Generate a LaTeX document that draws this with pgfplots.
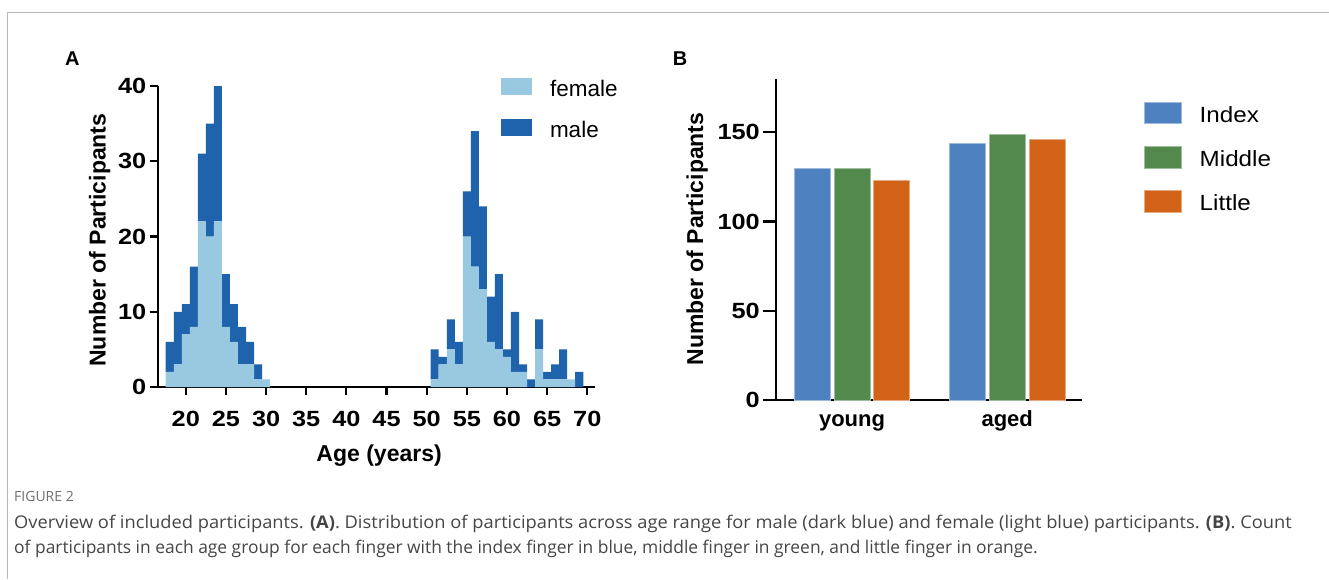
\documentclass[border=0pt]{standalone}
\usepackage{fontspec}
\setmainfont{Liberation Sans}
\newfontfamily\capfont{Open Sans}
\newfontfamily\tickfont{Liberation Sans}[FakeStretch=1.15]
\newfontfamily\legfont{Liberation Sans}[FakeStretch=1.1]
\usepackage{graphicx}
\usepackage{pgfplots}
\pgfplotsset{compat=1.18}
\definecolor{femaleblue}{HTML}{99C8E1}
\definecolor{maleblue}{HTML}{1E63AC}
\definecolor{idxblue}{HTML}{4E81C0}
\definecolor{midgreen}{HTML}{53894C}
\definecolor{litorange}{HTML}{D16218}
\definecolor{framegray}{HTML}{B8B8B8}
\definecolor{capgray}{HTML}{454545}
\definecolor{figgray}{HTML}{707070}
\newcommand{\lstrut}{\rule[-4pt]{0pt}{20pt}}
\begin{document}
\begin{tikzpicture}
\path[use as bounding box] (0pt,0pt) rectangle (1329pt,579pt);
\draw[framegray, line width=1.5pt] (7.3pt,0pt) -- (7.3pt,566.3pt) -- (1329pt,566.3pt);
\node[anchor=base west, inner sep=0pt, font=\fontsize{20}{20}\selectfont\bfseries] at (65pt,513.7pt) {A};
\node[anchor=base west, inner sep=0pt, font=\fontsize{20}{20}\selectfont\bfseries] at (672.7pt,513.7pt) {B};

% Panel A
\begin{axis}[
  at={(157.7pt,192pt)}, anchor=south west,
  scale only axis, width=437.6pt, height=301pt,
  xmin=16.5, xmax=71, ymin=0, ymax=40,
  axis x line*=bottom, axis y line*=left,
  axis line style={line width=2.2pt, -},
  every tick/.style={black, line width=2.2pt},
  tick align=outside, major tick length=8pt,
  xtick={20,25,...,70}, ytick={0,10,...,40},
  /pgf/number format/assume math mode=true,
  ticklabel style={font=\tickfont\fontsize{22}{22}\selectfont\bfseries},
  xticklabel style={yshift=-12.5pt},
  xlabel={Age (years)}, ylabel={Number of Participants},
  label style={font=\fontsize{23}{23}\selectfont\bfseries},
  xlabel style={at={(axis description cs:0.506,-0.248)}, anchor=base},
  ylabel style={at={(axis description cs:-0.1188,0.488)}, anchor=base},
  ybar stacked, bar width=1,
  legend style={draw=none, fill=none, at={(0.7845,1.0256)}, anchor=north west,
    inner sep=0pt, outer sep=0pt, row sep=21.3pt,
    nodes={inner sep=0pt, outer sep=0pt},
    font=\fontsize{22.5}{22.5}\selectfont,
    /tikz/every odd column/.append style={column sep=17.7pt}},
  legend cell align=left,
  legend image code/.code={\fill[#1] (0pt,-6pt) rectangle (31.3pt,10.7pt);},
  clip=false,
]
\addplot[fill=femaleblue, draw=none] coordinates {
(18,2) (19,3) (20,7) (21,8) (22,22) (23,20) (24,22) (25,8) (26,6) (27,3) (28,3) (29,1) (30,1)
(51,1) (52,3) (53,5) (54,3) (55,20) (56,16) (57,13) (58,6) (59,5) (60,4) (61,2) (62,2) (63,0) (64,5) (65,1) (66,1) (67,1) (68,1) (69,0)
};
\addlegendentry{\lstrut female}
\addplot[fill=maleblue, draw=none] coordinates {
(18,4) (19,7) (20,4) (21,8) (22,9) (23,15) (24,18) (25,7) (26,5) (27,5) (28,3) (29,2) (30,0)
(51,4) (52,1) (53,4) (54,3) (55,6) (56,18) (57,11) (58,6) (59,10) (60,1) (61,8) (62,1) (63,1) (64,4) (65,1) (66,2) (67,4) (68,0) (69,2)
};
\addlegendentry{\lstrut male}
\end{axis}

% Panel B
\begin{axis}[
  at={(776.3pt,179pt)}, anchor=south west,
  scale only axis, width=305.4pt, height=321.2pt,
  xmin=-0.488, xmax=1.48, ymin=0, ymax=180,
  axis x line*=bottom, axis y line*=left,
  axis line style={line width=2.2pt, -},
  every tick/.style={black, line width=2.2pt},
  tick align=outside, major tick length=13pt,
  xtick={0,1}, xticklabels={young,aged},
  x tick style={draw=none}, xtick style={draw=none},
  ytick={0,50,100,150},
  /pgf/number format/assume math mode=true,
  yticklabel style={font=\tickfont\fontsize{22}{22}\selectfont\bfseries},
  xticklabel style={font=\fontsize{22}{22}\selectfont\bfseries, text height=16pt, text depth=5pt, yshift=6pt},
  ylabel={Number of Participants},
  label style={font=\fontsize{23}{23}\selectfont\bfseries},
  ylabel style={at={(axis description cs:-0.240,0.501)}, anchor=base},
  ybar, bar width=0.232,
  legend style={draw=none, fill=none, at={(1.205,0.9287)}, anchor=north west,
    inner sep=0pt, outer sep=0pt, row sep=22pt,
    nodes={inner sep=0pt, outer sep=0pt},
    font=\legfont\fontsize{22}{22}\selectfont,
    /tikz/every odd column/.append style={column sep=18.3pt}},
  legend cell align=left,
  legend image code/.code={\fill[#1] (0pt,-8.6pt) rectangle (36.4pt,13pt);},
  clip=false,
]
\addplot[fill=idxblue, draw=idxblue!55!white, line width=0.7pt, bar shift=-0.2565] coordinates {(0,130) (1,144)};
\addlegendentry{\lstrut Index}
\addplot[fill=midgreen, draw=midgreen!55!white, line width=0.7pt, bar shift=0] coordinates {(0,130) (1,149)};
\addlegendentry{\lstrut Middle}
\addplot[fill=litorange, draw=litorange!55!white, line width=0.7pt, bar shift=0.2565] coordinates {(0,123) (1,146)};
\addlegendentry{\lstrut Little}
\end{axis}

% Caption
\node[anchor=base west, inner sep=0pt, font=\capfont\fontsize{14}{14}\selectfont, text=figgray] at (14pt,77.4pt) {FIGURE 2};
\node[anchor=base west, inner sep=0pt, font=\capfont\fontsize{17.5}{17.5}\selectfont, text=capgray] at (14pt,50.4pt) {\scalebox{1.045}[1]{Overview of included participants. \textbf{(A)}. Distribution of participants across age range for male (dark blue) and female (light blue) participants. \textbf{(B)}. Count}};
\node[anchor=base west, inner sep=0pt, font=\capfont\fontsize{17.5}{17.5}\selectfont, text=capgray] at (14pt,25.4pt) {\scalebox{0.994}[1]{of participants in each age group for each finger with the index finger in blue, middle finger in green, and little finger in orange.}};
\end{tikzpicture}
\end{document}
